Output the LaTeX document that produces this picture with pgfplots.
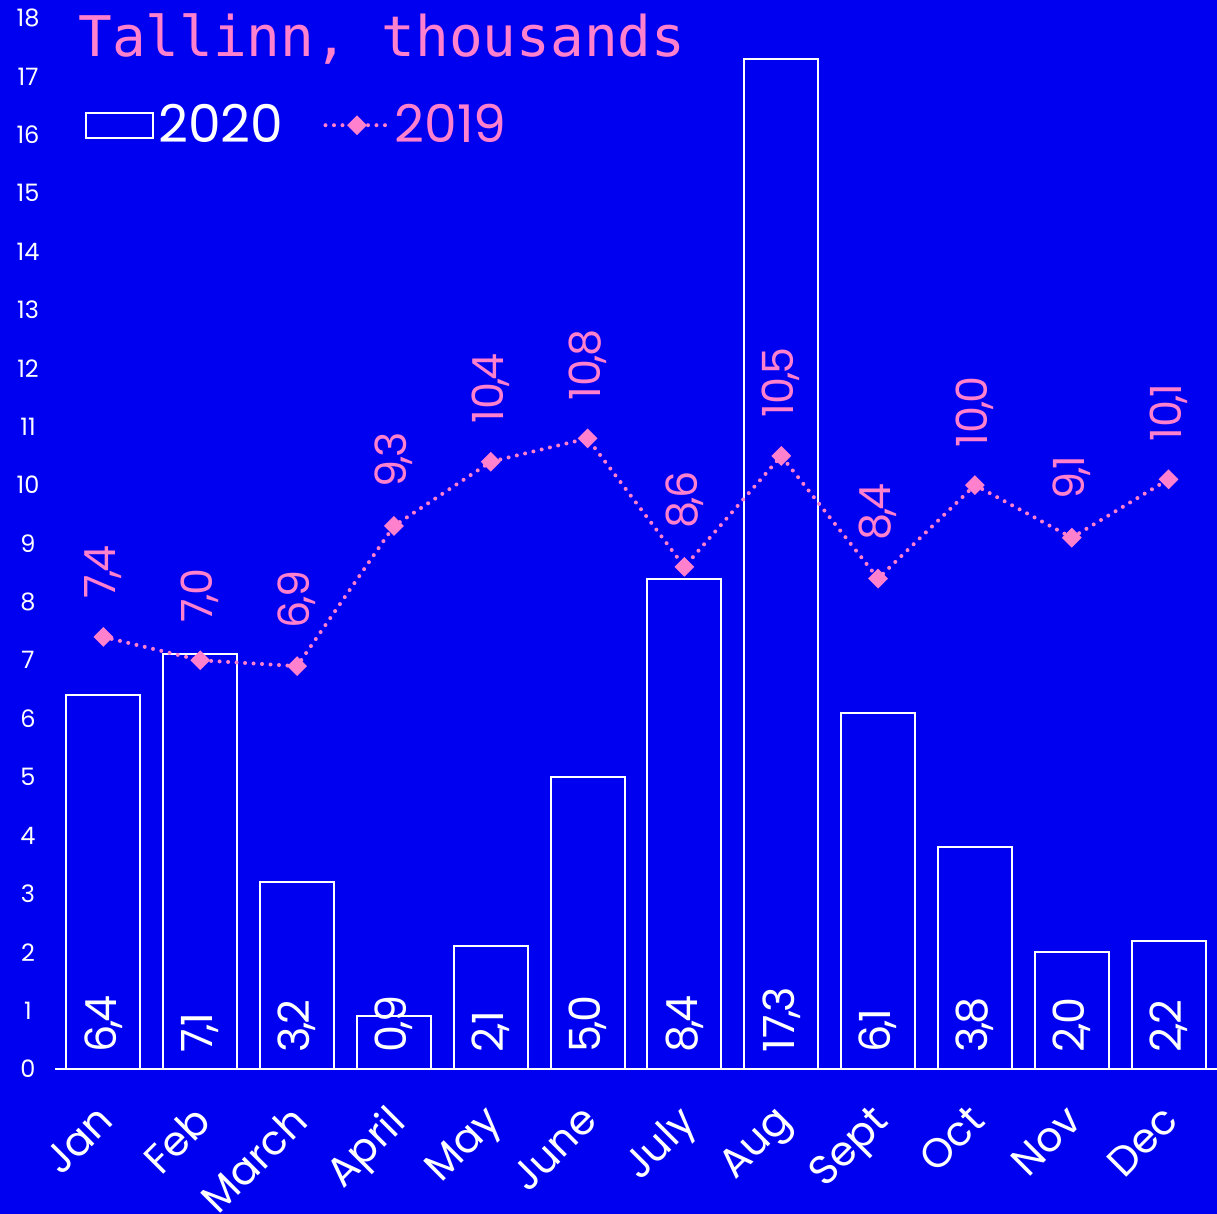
\documentclass[border=0pt]{standalone}
\usepackage{fontspec}
\setmainfont{Poppins}
\newfontfamily\titlefont{DejaVu Sans Mono}
\usepackage{pgfplots}
\usepackage{pgfplotstable}
\pgfplotsset{compat=1.18}
\definecolor{bg}{RGB}{0,0,240}
\definecolor{pk}{RGB}{255,128,204}
\pgfplotsset{
  mylinelegend/.style={legend image code/.code={\draw[mark repeat=2, mark phase=2, ##1] plot coordinates {(0pt,0pt) (15.75pt,0pt) (31.5pt,0pt)};}},
  mybarlegend/.style={legend image code/.code={\draw[white, line width=1pt, fill=bg] (0pt,-6.25pt) rectangle (33.5pt,6.25pt);}},
}
\pgfplotstableread{
x b l
0 6.4 7.4
1 7.1 7.0
2 3.2 6.9
3 0.9 9.3
4 2.1 10.4
5 5.0 10.8
6 8.4 8.6
7 17.3 10.5
8 6.1 8.4
9 3.8 10.0
10 2.0 9.1
11 2.2 10.1
}\data
\newcommand{\fmt}[1]{\pgfmathprintnumber[fixed, fixed zerofill, precision=1, set decimal separator={\kern-0.08em,\kern-0.05em}]{#1}}
\begin{document}
\begin{tikzpicture}
\useasboundingbox (0,0) rectangle (608.5pt,607pt);
\fill[bg] (0,0) rectangle (608.5pt,607pt);
\begin{axis}[
  at={(27.5pt,72.5pt)}, anchor=south west,
  scale only axis, width=581pt, height=525.5pt,
  xmin=-0.5, xmax=11.5, ymin=0, ymax=18,
  axis x line*=bottom, axis y line*=left,
  x axis line style={white, line width=1pt},
  y axis line style={draw=none},
  xtick={0,...,11},
  xticklabels={Jan,Feb,March,April,May,June,July,Aug,Sept,Oct,Nov,Dec},
  ytick={0,...,18},
  major tick length=0pt,
  tick style={draw=none},
  /pgf/number format/assume math mode=true,
  yticklabel style={font=\fontsize{12}{14}\selectfont, text=white, anchor=center, xshift=-13.5pt},
  xticklabel style={xshift=-4.2pt, yshift=-16.6pt, rotate=45, anchor=north east, inner sep=0pt, font=\fontsize{20.5}{24}\selectfont, text=white},
  clip=false,
  legend columns=2,
  legend style={draw=none, fill=none, at={(rel axis cs:0.0258,0.898)}, anchor=west, inner sep=0pt,
    font=\fontsize{26}{28}\selectfont, text=white,
    /tikz/every even column/.append style={column sep=18pt}},
]
\addplot[ybar, bar width=37pt, draw=white, fill=bg, line width=1pt, mybarlegend]
  table[x=x,y=b]{\data};
\addlegendentry{2020}
\addplot[pk, line width=2pt, line cap=round, dash pattern=on 0pt off 4.25pt,
  mark=square*, mark size=2.5pt, mark options={solid, rotate=45, fill=pk, draw=none},
  point meta=explicit,
  nodes near coords={\fmt{\pgfplotspointmeta}},
  nodes near coords style={yshift=18pt, rotate=90, anchor=west, inner sep=0pt, font=\fontsize{21.5}{24}\selectfont, text=pk},
  mylinelegend]
  table[x=x,y=l,meta=l]{\data};
\addlegendentry{\textcolor{pk}{2019}}
\addplot[draw=none, mark=none, forget plot,
  point meta=explicit,
  nodes near coords={\fmt{\pgfplotspointmeta}},
  nodes near coords style={yshift=8pt, rotate=90, anchor=west, inner sep=0pt, font=\fontsize{21.5}{24}\selectfont, text=white}]
  table[x=x,y expr=0,meta=b]{\data};
\node[anchor=base west, inner sep=0pt, text=pk, font=\titlefont\fontsize{28}{30}\selectfont] at (rel axis cs:0.0198,0.963) {Tallinn, thousands};
\end{axis}
\end{tikzpicture}
\end{document}
